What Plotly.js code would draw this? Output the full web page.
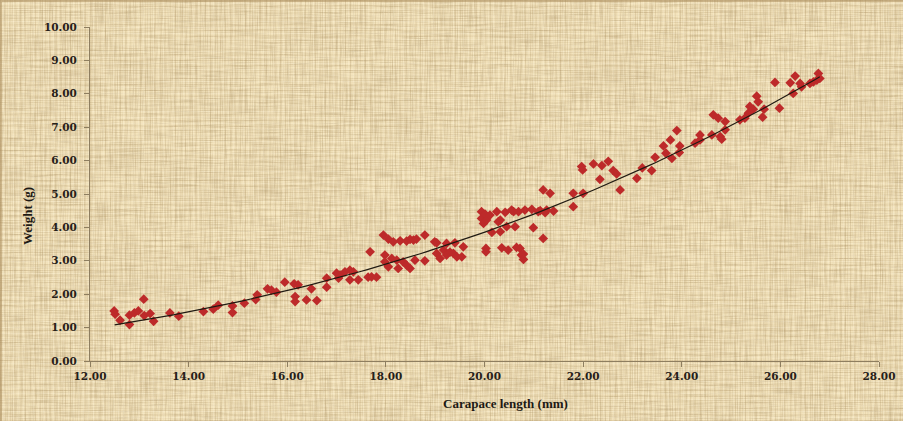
<!DOCTYPE html>
<html>
<head>
<meta charset="utf-8">
<script src="https://cdn.plot.ly/plotly-3.0.1.min.js"></script>
<style>
  html, body { margin: 0; padding: 0; }
  #wrap {
    position: relative;
    width: 903px; height: 421px; overflow: hidden;
    background-color: #f4e4bd;
  }
  #linen { position: absolute; left: 0; top: 0; }
  #threads {
    position: absolute; left: 0; top: 0; width: 903px; height: 421px;
    background-image:
      repeating-linear-gradient(90deg, rgba(150,118,66,0.07) 0 1px, transparent 1px 7px),
      repeating-linear-gradient(0deg, rgba(150,118,66,0.07) 0 1px, transparent 1px 5px),
      repeating-linear-gradient(90deg, rgba(160,128,76,0.11) 0 1px, transparent 1px 3px, rgba(255,248,228,0.20) 3px 4px, transparent 4px 5px),
      repeating-linear-gradient(0deg, rgba(160,128,76,0.11) 0 1px, transparent 1px 3px, rgba(255,248,228,0.18) 3px 4px, transparent 4px 6px);
    box-shadow: inset 2px 2px 0 rgba(170,140,92,0.5);
  }
  #chart { position: absolute; left: 0; top: 0; width: 903px; height: 421px; }
</style>
</head>
<body>
<div id="wrap">
  <!-- woven linen backdrop: vertical and horizontal fibre streaks -->
  <svg id="linen" width="903" height="421" xmlns="http://www.w3.org/2000/svg">
    <filter id="warp" x="0" y="0" width="100%" height="100%">
      <feTurbulence type="fractalNoise" baseFrequency="0.75 0.035" numOctaves="2" seed="4"/>
      <feColorMatrix type="matrix" values="0 0 0 0 0.50  0 0 0 0 0.38  0 0 0 0 0.20  2.4 0 0 0 -1.05"/>
    </filter>
    <filter id="weft" x="0" y="0" width="100%" height="100%">
      <feTurbulence type="fractalNoise" baseFrequency="0.035 0.75" numOctaves="2" seed="9"/>
      <feColorMatrix type="matrix" values="0 0 0 0 0.50  0 0 0 0 0.38  0 0 0 0 0.20  2.4 0 0 0 -1.05"/>
    </filter>
    <filter id="blot" x="0" y="0" width="100%" height="100%">
      <feTurbulence type="fractalNoise" baseFrequency="0.012 0.02" numOctaves="2" seed="2"/>
      <feColorMatrix type="matrix" values="0 0 0 0 0.62  0 0 0 0 0.50  0 0 0 0 0.30  1.2 0 0 0 -0.45"/>
    </filter>
    <rect width="903" height="421" filter="url(#blot)" opacity="0.22"/>
    <rect width="903" height="421" filter="url(#warp)" opacity="0.45"/>
    <rect width="903" height="421" filter="url(#weft)" opacity="0.45"/>
  </svg>
  <div id="threads"></div>
  <div id="chart"></div>
</div>
<script>
// Carapace length (mm) and body weight (g) of individual specimens
const carapaceLength = [
  12.49, 12.51, 12.61, 12.80, 12.80, 12.90, 12.98, 13.09, 13.10, 13.22, 13.29, 13.62, 13.80,
  14.30, 14.50, 14.60, 14.89, 14.89, 15.13, 15.36, 15.39, 15.60, 15.68, 15.78, 15.95,
  16.14, 16.16, 16.16, 16.22, 16.39, 16.49, 16.60, 16.80, 16.80, 17.00, 17.04,
  17.07, 17.17, 17.27, 17.27, 17.34, 17.44, 17.64, 17.68, 17.71, 17.81,
  17.95, 17.98, 17.98, 18.05, 18.05, 18.12, 18.15, 18.22, 18.25, 18.29, 18.35, 18.42, 18.42,
  18.49, 18.49, 18.56, 18.59, 18.62, 18.79, 18.79, 18.99,
  19.03, 19.03, 19.10, 19.17, 19.23, 19.23, 19.30, 19.37, 19.40, 19.44, 19.54, 19.57,
  19.94, 19.94, 19.98, 20.01, 20.03, 20.03, 20.04, 20.11, 20.15, 20.25, 20.28, 20.32, 20.32,
  20.35, 20.42, 20.45, 20.48, 20.55, 20.59, 20.62, 20.65, 20.69, 20.72, 20.75, 20.79, 20.79,
  20.82, 20.96, 20.99, 21.09, 21.13, 21.19, 21.19, 21.23, 21.26, 21.33, 21.40,
  21.80, 21.80, 21.97, 21.99, 22.00, 22.21, 22.34, 22.38, 22.51, 22.61, 22.68, 22.75,
  23.09, 23.20, 23.39, 23.46, 23.63, 23.68, 23.77, 23.80, 23.90, 23.95, 23.96,
  24.27, 24.37, 24.37, 24.61, 24.64, 24.74, 24.78, 24.81, 24.88, 24.88,
  25.18, 25.28, 25.35, 25.38, 25.45, 25.52, 25.55, 25.64, 25.67, 25.89, 25.98,
  26.20, 26.26, 26.30, 26.40, 26.43, 26.60, 26.67, 26.74, 26.77, 26.80
];
const bodyWeight = [
  1.50, 1.40, 1.22, 1.09, 1.37, 1.44, 1.50, 1.85, 1.36, 1.42, 1.19, 1.44, 1.34,
  1.48, 1.55, 1.67, 1.65, 1.45, 1.73, 1.84, 1.98, 2.16, 2.12, 2.06, 2.36,
  2.31, 1.93, 1.78, 2.28, 1.83, 2.16, 1.81, 2.48, 2.21, 2.63, 2.48,
  2.57, 2.67, 2.43, 2.72, 2.67, 2.43, 2.51, 3.27, 2.52, 2.51,
  3.77, 3.17, 2.97, 2.82, 3.65, 3.07, 3.57, 3.02, 2.77, 3.60, 2.97, 2.87, 3.59,
  2.77, 3.64, 3.62, 3.02, 3.65, 3.77, 3.00, 3.57,
  3.54, 3.22, 3.07, 3.32, 3.52, 3.17, 3.26, 3.22, 3.54, 3.12, 3.12, 3.42,
  4.47, 4.27, 4.12, 4.40, 3.37, 3.27, 4.22, 4.37, 3.85, 4.47, 4.17, 4.22, 3.87,
  3.39, 4.45, 4.02, 3.32, 4.52, 4.47, 4.02, 3.40, 4.47, 3.37, 3.17, 3.20, 3.04,
  4.52, 4.54, 3.99, 4.47, 4.50, 5.12, 3.67, 4.44, 4.52, 5.02, 4.49,
  4.62, 5.02, 5.82, 5.72, 5.02, 5.90, 5.44, 5.85, 5.98, 5.70, 5.60, 5.12,
  5.47, 5.78, 5.70, 6.10, 6.44, 6.22, 6.62, 6.07, 6.90, 6.24, 6.44,
  6.52, 6.62, 6.77, 6.77, 7.37, 7.27, 6.72, 6.64, 7.17, 6.92,
  7.22, 7.27, 7.42, 7.62, 7.54, 7.93, 7.76, 7.30, 7.54, 8.34, 7.57,
  8.33, 8.01, 8.53, 8.31, 8.21, 8.31, 8.36, 8.41, 8.61, 8.46
];

// Power trend line W = a * L^b over the sampled length range
const trendA = 0.001166;
const trendB = 2.705;
const trendRange = [12.5, 26.8];

const trendX = [];
const trendY = [];
const steps = 120;
for (let i = 0; i <= steps; i++) {
  const L = trendRange[0] + (trendRange[1] - trendRange[0]) * i / steps;
  trendX.push(L);
  trendY.push(trendA * Math.pow(L, trendB));
}

const xTicks = [12, 14, 16, 18, 20, 22, 24, 26, 28];
const yTicks = [0, 1, 2, 3, 4, 5, 6, 7, 8, 9, 10];

const tickFont = { family: 'DejaVu Serif, serif', size: 10.5, color: '#262018', weight: 'bold' };
const titleFont = { family: 'Liberation Serif, Times New Roman, serif', size: 13, color: '#1e1a14', weight: 'bold' };
const axisColor = '#8e7e60';

const traces = [
  {
    x: carapaceLength,
    y: bodyWeight,
    type: 'scatter',
    mode: 'markers',
    marker: { symbol: 'diamond', size: 7.5, color: '#bd2a2a', line: { width: 0 } },
    hoverinfo: 'x+y'
  },
  {
    x: trendX,
    y: trendY,
    type: 'scatter',
    mode: 'lines',
    line: { color: '#201a12', width: 1.2 },
    hoverinfo: 'skip'
  }
];

const layout = {
  width: 903,
  height: 421,
  margin: { l: 90, r: 24, t: 27, b: 60 },
  paper_bgcolor: 'rgba(0,0,0,0)',
  plot_bgcolor: 'rgba(0,0,0,0)',
  showlegend: false,
  xaxis: {
    range: [12, 28],
    tickvals: xTicks,
    ticktext: xTicks.map(v => v.toFixed(2)),
    showgrid: false,
    zeroline: false,
    showline: true,
    linecolor: axisColor,
    linewidth: 1,
    ticks: 'outside',
    ticklen: 5,
    tickcolor: axisColor,
    tickfont: tickFont
  },
  yaxis: {
    range: [0, 10],
    tickvals: yTicks,
    ticktext: yTicks.map(v => v.toFixed(2)),
    showgrid: false,
    zeroline: false,
    showline: true,
    linecolor: axisColor,
    linewidth: 1,
    ticks: 'outside',
    ticklen: 5,
    tickcolor: axisColor,
    tickfont: tickFont,
    ticklabelstandoff: 5
  },
  annotations: [
    {
      text: 'Carapace length (mm)',
      xref: 'paper', yref: 'paper',
      x: (505 - 90) / 789, y: -(403 - 361) / 334,
      xanchor: 'center', yanchor: 'middle',
      showarrow: false,
      font: titleFont
    },
    {
      text: 'Weight (g)',
      xref: 'paper', yref: 'paper',
      x: -(90 - 27) / 789, y: (361 - 216) / 334,
      xanchor: 'center', yanchor: 'middle',
      textangle: -90,
      showarrow: false,
      font: titleFont
    }
  ]
};

Plotly.newPlot('chart', traces, layout, { displayModeBar: false, staticPlot: true });
</script>
</body>
</html>
